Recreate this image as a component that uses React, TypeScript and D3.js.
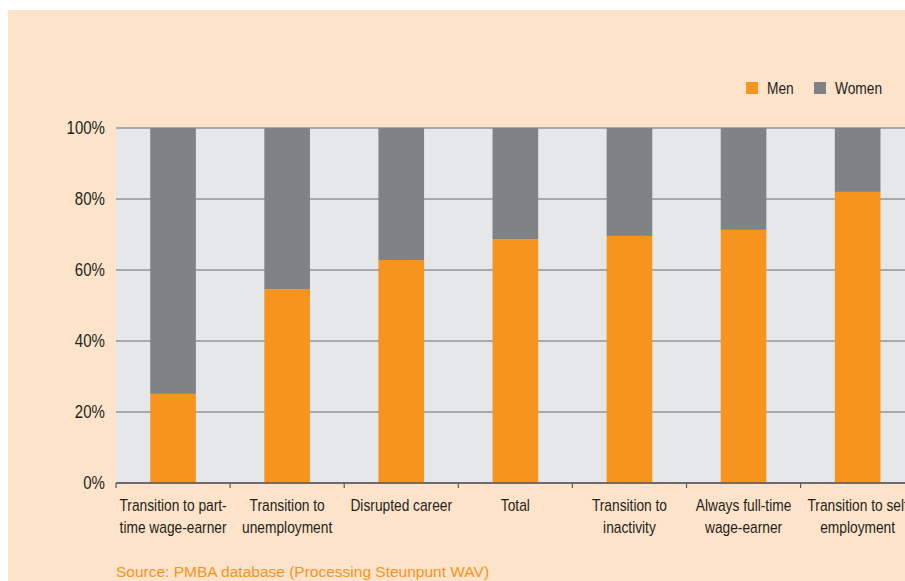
import React from "react";
import * as d3 from "d3";

const categories: string[][] = [
  ["Transition to part-", "time wage-earner"],
  ["Transition to", "unemployment"],
  ["Disrupted career"],
  ["Total"],
  ["Transition to", "inactivity"],
  ["Always full-time", "wage-earner"],
  ["Transition to self", "employment"],
];
const men: number[] = [25.1, 54.6, 62.8, 68.7, 69.6, 71.3, 82.0];
const women: number[] = men.map((m) => 100 - m);
const yTicks: number[] = [0, 20, 40, 60, 80, 100];
const seriesNames: string[] = ["Men", "Women"];
const source = "Source: PMBA database (Processing Steunpunt WAV)";

const W = 905;
const H = 581;
const FONT = "'Liberation Sans', Arial, sans-serif";
const ORANGE = "#f7941d";
const GREY = "#808285";
const SX = 0.86;

function NText(props: { x: number; y: number; anchor?: string; size: number; fill?: string; children: React.ReactNode }) {
  return (
    <text
      transform={`translate(${props.x},${props.y}) scale(${SX},1)`}
      textAnchor={props.anchor || "start"}
      fontFamily={FONT}
      fontSize={props.size}
      fill={props.fill || "#231f20"}
    >
      {props.children}
    </text>
  );
}

export default function App() {
  const left = 116;
  const right = 116 + 7 * 114.1;
  const top = 128;
  const bottom = 483;
  const idx = categories.map((_, i) => String(i));
  const x = d3.scaleBand<string>().domain(idx).range([left, right]).paddingInner(0.6).paddingOuter(0.3);
  const y = d3.scaleLinear().domain([0, 100]).range([bottom, top]);
  const stack = d3.stack<any>().keys(["men", "women"])(
    men.map((m, i) => ({ men: m, women: women[i] }))
  );
  const colors = [ORANGE, GREY];
  const step = x.step();
  const boundaries = d3.range(categories.length + 1).map((i) => left + i * step);

  return (
    <svg width={W} height={H} style={{ position: "absolute", left: 0, top: 0 }}>
      <rect x={8} y={10} width={W - 8} height={H - 10} fill="#fde3c9" />
      <rect x={left} y={top} width={right - left} height={bottom - top} fill="#e6e7e8" />
      {yTicks.map((t) => (
        <g key={t}>
          <line x1={left} x2={right} y1={y(t)} y2={y(t)} stroke="#a7a9ac" strokeWidth={2} />
          <NText x={105} y={y(t) + 6} anchor="end" size={17.5}>
            {t}%
          </NText>
        </g>
      ))}
      {stack.map((s, si) =>
        s.map((d, i) => (
          <rect
            key={si + "-" + i}
            x={x(String(i))}
            width={x.bandwidth()}
            y={y(d[1])}
            height={y(d[0]) - y(d[1])}
            fill={colors[si]}
          />
        ))
      )}
      <line x1={left} x2={right} y1={bottom} y2={bottom} stroke="#58595b" strokeWidth={1.5} />
      {boundaries.map((b, i) => (
        <line key={i} x1={b} x2={b} y1={bottom} y2={bottom + 5} stroke="#58595b" strokeWidth={1.2} />
      ))}
      {categories.map((lines, i) =>
        lines.map((l, j) => (
          <NText
            key={i + "-" + j}
            x={(x(String(i)) as number) + x.bandwidth() / 2}
            y={511 + j * 22}
            anchor="middle"
            size={16}
          >
            {l}
          </NText>
        ))
      )}
      {seriesNames.map((n, i) => {
        const lx = [746, 814][i];
        return (
          <g key={n}>
            <rect x={lx} y={82} width={12} height={12} fill={colors[i]} />
            <NText x={lx + 21} y={94} size={16}>
              {n}
            </NText>
          </g>
        );
      })}
      <text x={116} y={577} fontFamily={FONT} fontSize={15.5} fill={ORANGE}>
        {source}
      </text>
    </svg>
  );
}
